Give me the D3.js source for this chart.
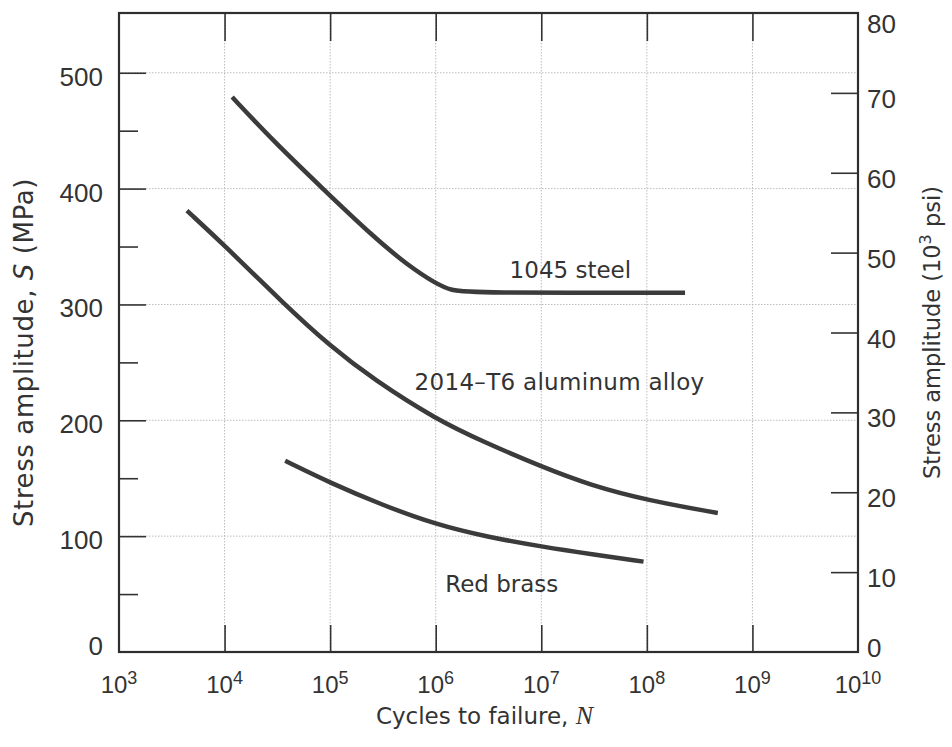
<!DOCTYPE html>
<html>
<head>
<meta charset="utf-8">
<script src="https://cdn.jsdelivr.net/npm/d3@7"></script>
<style>
  html, body { margin: 0; padding: 0; background: #fff; }
  svg { display: block; }
  .num { font-family: "Liberation Sans", Arial, sans-serif; fill: #333; }
  .lbl { font-family: "DejaVu Sans", sans-serif; fill: #333; }
</style>
</head>
<body>
<svg id="chart" width="952" height="747"></svg>
<script>
const WIDTH = 952;
const HEIGHT = 747;
const MARGIN = { top: 13, right: 94, bottom: 95, left: 119 };
const MPA_PER_KSI = 6.894757;

// axis ticks
const cycleTicks = [1e3, 1e4, 1e5, 1e6, 1e7, 1e8, 1e9, 1e10];
const cycleExponents = [3, 4, 5, 6, 7, 8, 9, 10];
const stressTicks = [0, 100, 200, 300, 400, 500];
const stressMinorTicks = [50, 150, 250, 350, 450];
const ksiTicks = [0, 10, 20, 30, 40, 50, 60, 70, 80];

// S-N curves (cycles, MPa)
const steelCycles = [1.18e4, 2.9e4, 8.5e4, 2.6e5, 5.4e5, 1.0e6, 1.4e6, 2.2e6, 2.3e8];
const steelStress = [479, 441, 400, 358, 334, 318, 312, 310, 310];

const aluminumCycles = [4.4e3, 1e4, 3.7e4, 1e5, 2.6e5, 1e6, 2.9e6, 1e7, 2.9e7, 1e8, 4.7e8];
const aluminumStress = [381, 351, 300, 264, 235, 201, 181, 160, 144, 131, 120];

const brassCycles = [3.75e4, 1e5, 3.1e5, 1e6, 3.2e6, 1e7, 3.2e7, 9.3e7];
const brassStress = [165, 146, 127, 110, 99, 91, 84, 78];

const zip = (xs, ys) => xs.map((v, i) => ({ n: v, s: ys[i] }));

const svg = d3.select("#chart");
const x0 = MARGIN.left;
const x1 = WIDTH - MARGIN.right;
const y0 = HEIGHT - MARGIN.bottom;
const y1 = MARGIN.top;

const x = d3.scaleLog().domain([1e3, 1e10]).range([x0, x1]);
const y = d3.scaleLinear().domain([0, 80 * MPA_PER_KSI]).range([y0, y1]);
const yKsi = d3.scaleLinear().domain([0, 80]).range([y0, y1]);

// dotted grid
const grid = svg.append("g").attr("stroke", "#bdbdbd").attr("stroke-width", 1).attr("stroke-dasharray", "1.5,1.5");
grid.selectAll("line.h")
  .data(stressTicks.filter((d) => d > 0))
  .join("line")
  .attr("x1", x0).attr("x2", x1)
  .attr("y1", (d) => y(d)).attr("y2", (d) => y(d));
grid.selectAll("line.v")
  .data(cycleTicks.slice(1, -1))
  .join("line")
  .attr("x1", (d) => x(d)).attr("x2", (d) => x(d))
  .attr("y1", y1).attr("y2", y0);

// inward tick marks via d3 axes
const styleAxis = (g) => {
  g.select(".domain").remove();
  g.selectAll(".tick line").attr("stroke", "#333").attr("stroke-width", 1.6);
  g.selectAll(".tick text").remove();
};

svg.append("g").attr("transform", `translate(${x0},0)`)
  .call(d3.axisLeft(y).tickValues(stressTicks.slice(1)).tickSize(-27)).call(styleAxis);
svg.append("g").attr("transform", `translate(${x0},0)`)
  .call(d3.axisLeft(y).tickValues(stressMinorTicks).tickSize(-19)).call(styleAxis);
svg.append("g").attr("transform", `translate(${x1},0)`)
  .call(d3.axisRight(yKsi).tickValues(ksiTicks.slice(1, -1)).tickSize(-27)).call(styleAxis);
svg.append("g").attr("transform", `translate(0,${y0})`)
  .call(d3.axisBottom(x).tickValues(cycleTicks.slice(1, -1)).tickSize(-27)).call(styleAxis);
svg.append("g").attr("transform", `translate(0,${y1})`)
  .call(d3.axisTop(x).tickValues(cycleTicks.slice(1, -1)).tickSize(-28)).call(styleAxis);

// frame
svg.append("rect")
  .attr("x", x0).attr("y", y1)
  .attr("width", x1 - x0).attr("height", y0 - y1)
  .attr("fill", "none").attr("stroke", "#2e2e2e").attr("stroke-width", 2.2);

// curves
const line = d3.line()
  .x((d) => x(d.n))
  .y((d) => y(d.s))
  .curve(d3.curveBasis);

svg.append("g")
  .selectAll("path")
  .data([zip(steelCycles, steelStress), zip(aluminumCycles, aluminumStress), zip(brassCycles, brassStress)])
  .join("path")
  .attr("d", line)
  .attr("fill", "none")
  .attr("stroke", "#3b3b3b")
  .attr("stroke-width", 4.5)
  .attr("stroke-linecap", "butt");

// left tick labels (MPa)
svg.append("g")
  .selectAll("text")
  .data(stressTicks)
  .join("text")
  .attr("class", "num")
  .attr("x", 103)
  .attr("y", (d) => y(d) + (d === 0 ? 3 : 13))
  .attr("text-anchor", "end")
  .attr("font-size", 26)
  .text((d) => d);

// right tick labels (ksi)
svg.append("g")
  .selectAll("text")
  .data(ksiTicks)
  .join("text")
  .attr("class", "num")
  .attr("x", 867)
  .attr("y", (d) => yKsi(d) + (d === 0 ? 5 : d === 80 ? 20 : 15))
  .attr("font-size", 26)
  .text((d) => d);

// bottom tick labels 10^n
const xLabels = svg.append("g")
  .selectAll("text")
  .data(cycleTicks)
  .join("text")
  .attr("class", "num")
  .attr("x", (d) => x(d))
  .attr("y", y0 + 41)
  .attr("text-anchor", "middle")
  .attr("font-size", 24);
xLabels.append("tspan").text("10");
xLabels.append("tspan")
  .attr("font-size", 18)
  .attr("dy", -9)
  .text((d, i) => cycleExponents[i]);

// curve labels
svg.append("text").attr("class", "lbl")
  .attr("x", x(10 ** 6.70)).attr("y", y(322.8))
  .attr("font-size", 23)
  .text("1045 steel");
svg.append("text").attr("class", "lbl")
  .attr("x", x(10 ** 5.80)).attr("y", y(226))
  .attr("font-size", 23)
  .attr("letter-spacing", 0.3)
  .text("2014–T6 aluminum alloy");
svg.append("text").attr("class", "lbl")
  .attr("x", x(10 ** 6.09)).attr("y", y(52))
  .attr("font-size", 23)
  .text("Red brass");

// axis titles
const xTitle = svg.append("text").attr("class", "lbl")
  .attr("x", (x0 + x1) / 2 - 4)
  .attr("y", 724)
  .attr("text-anchor", "middle")
  .attr("font-size", 23);
xTitle.append("tspan").text("Cycles to failure, ");
xTitle.append("tspan")
  .attr("font-family", "'Liberation Serif', 'DejaVu Serif', serif")
  .attr("font-style", "italic")
  .attr("font-size", 26)
  .text("N");

const yTitle = svg.append("text").attr("class", "lbl")
  .attr("transform", `translate(33,${(y0 + y1) / 2 + 20}) rotate(-90)`)
  .attr("text-anchor", "middle")
  .attr("font-size", 26)
  .attr("letter-spacing", 0.6);
yTitle.append("tspan").text("Stress amplitude, ");
yTitle.append("tspan").attr("font-style", "italic").text("S");
yTitle.append("tspan").text(" (MPa)");

const y2Title = svg.append("text").attr("class", "lbl")
  .attr("transform", `translate(940,${(y0 + y1) / 2}) rotate(-90)`)
  .attr("text-anchor", "middle")
  .attr("font-size", 22.5);
y2Title.append("tspan").text("Stress amplitude (10");
y2Title.append("tspan").attr("font-size", 16).attr("dy", -9).text("3");
y2Title.append("tspan").attr("dy", 9).text(" psi)");
</script>
</body>
</html>
